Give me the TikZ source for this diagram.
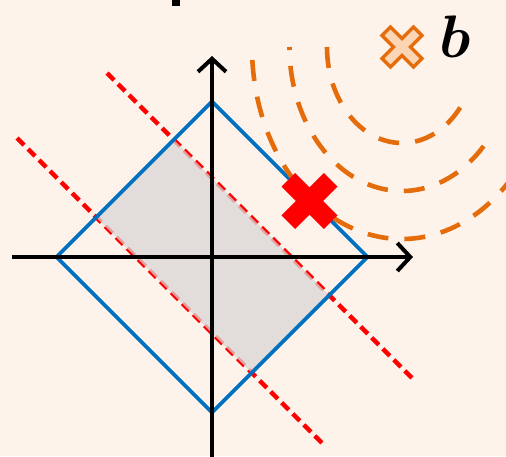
\documentclass[tikz,border=0pt]{standalone}
\usepackage{bm}
\usetikzlibrary{arrows.meta}
\definecolor{bgc}{HTML}{FDF3EA}
\definecolor{bluec}{HTML}{0070C0}
\definecolor{orangec}{HTML}{E46C0A}
\definecolor{peach}{HTML}{FCD5B5}
\definecolor{greyc}{HTML}{D9D6D5}
\tikzset{
  pics/xcross/.style 2 args={code={
    \path[pic actions] (#2,#2) -- (#1,#2) -- (#1,-#2) -- (#2,-#2) -- (#2,-#1) -- (-#2,-#1)
      -- (-#2,-#2) -- (-#1,-#2) -- (-#1,#2) -- (-#2,#2) -- (-#2,#1) -- (#2,#1) -- cycle;
  }},
  redline/.style={draw=red, line width=4.4pt, dash pattern=on 10pt off 5.6pt},
  shade/.style={fill=greyc, fill opacity=0.75},
  diam/.style={draw=bluec, line width=3.7pt, line join=miter},
  axisline/.style={draw=black, line width=4pt, -{Straight Barb[length=13pt,width=28pt]}},
  orarc/.style={draw=orangec, line width=4.6pt, dash pattern=on 21pt off 16pt},
}
\begin{document}
\begin{tikzpicture}[x=1pt,y=-1pt]
\path[fill=bgc] (0,0) rectangle (506,456);
\useasboundingbox (0,0) rectangle (506,456);
\begin{scope}
\clip (0,0) rectangle (506,456);
% diamond vertices
\coordinate (O) at (212,257);
\coordinate (T) at (212,101.5);
\coordinate (L) at (56.5,257);
\coordinate (R) at (367.5,257);
\coordinate (B) at (212,412.5);
% red dashed lines
\coordinate (r1a) at (107,73);
\coordinate (r1b) at (413,379);
\coordinate (r2a) at (17,138);
\coordinate (r2b) at (323,444);
\draw[redline] (r1a) -- (r1b);
\draw[redline] (r2a) -- (r2b);
% shaded band
\coordinate (g1) at (intersection of T--L and r1a--r1b);
\coordinate (g2) at (intersection of R--B and r1a--r1b);
\coordinate (g3) at (intersection of R--B and r2a--r2b);
\coordinate (g4) at (intersection of T--L and r2a--r2b);
\fill[shade] (g1) -- (g2) -- (g3) -- (g4) -- cycle;
% diamond
\draw[diam] (T) -- (R) -- (B) -- (L) -- cycle;
% axes
\coordinate (xs) at (12,257);
\coordinate (xe) at (413,257);
\coordinate (ys) at (212,460);
\coordinate (ye) at (212,56);
\draw[axisline] (xs) -- (xe);
\draw[axisline] (ys) -- (ye);
% orange level curves
\coordinate (bc) at (402,47);
\draw[orarc] (bc) ++(-75,0) arc[start angle=180,end angle=39,x radius=75,y radius=96];
\draw[orarc, dash phase=18pt] (bc) ++(-112.5,0) arc[start angle=180,end angle=39,x radius=112.5,y radius=144];
\draw[orarc, dash phase=24pt] (bc) ++(-150,0) arc[start angle=180,end angle=39,x radius=150,y radius=192];
% markers
\pic[rotate=45, fill=peach, draw=orangec, line width=3.4pt, line join=miter] at (bc) {xcross={22.3}{6}};
\pic[rotate=45, fill=red] at (309.5,201) {xcross={30}{9.6}};
\node[anchor=base west, inner sep=0pt, scale=6] (blabel) at (438,57) {$\bm{b}$};
% cut-off fragment at top
\fill[black] (172,0) rectangle (180,5.5);
\end{scope}
\end{tikzpicture}
\end{document}
